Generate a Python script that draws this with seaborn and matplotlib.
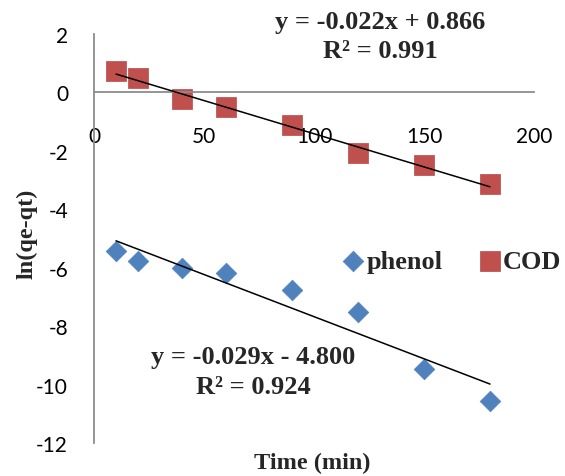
import matplotlib
matplotlib.use("Agg")
import matplotlib.pyplot as plt
import seaborn as sns
import pandas as pd

time_min = [10, 20, 40, 60, 90, 120, 150, 180]
phenol = [-5.43, -5.77, -6.00, -6.18, -6.76, -7.51, -9.45, -10.55]
cod = [0.72, 0.51, -0.24, -0.51, -1.13, -2.08, -2.49, -3.14]
x_ticks = [0, 50, 100, 150, 200]
y_ticks = [-12, -10, -8, -6, -4, -2, 0, 2]
eq_cod = ["y = -0.022x + 0.866", "R² = 0.991"]
eq_phenol = ["y = -0.029x - 4.800", "R² = 0.924"]

sns.set_style("white")
plt.rcParams['font.family'] = ['Lato', 'DejaVu Sans']

W, H = 565, 477
fig = plt.figure(figsize=(W / 100, H / 100), dpi=100)
ax = fig.add_axes([94 / W, 1 - 444 / H, (534 - 94) / W, (444 - 35) / H])

df = pd.DataFrame({"t": time_min, "phenol": phenol, "COD": cod})

blue = "#4F81BD"
red = "#C0504D"

sns.regplot(data=df, x="t", y="phenol", scatter=False, ci=None, ax=ax,
            color="black", line_kws={"lw": 1.1, "zorder": 3})
sns.regplot(data=df, x="t", y="COD", scatter=False, ci=None, ax=ax,
            color="black", line_kws={"lw": 1.1, "zorder": 3})
sns.scatterplot(data=df, x="t", y="phenol", marker="D", s=110, color=blue,
                edgecolor=blue, linewidth=0.5, ax=ax, label="phenol", zorder=2)
sns.scatterplot(data=df, x="t", y="COD", marker="s", s=190, color=red,
                edgecolor="#B8474A", linewidth=0.5, ax=ax, label="COD", zorder=2)

ax.set_xlim(0, 200)
ax.set_ylim(-12, 2)
ax.set_xticks(x_ticks)
ax.set_yticks(y_ticks)
ax.set_xticklabels([str(v) for v in x_ticks])
ax.set_yticklabels([str(v) for v in y_ticks])
ax.tick_params(axis="both", length=0, labelsize=15, colors="black")
ax.tick_params(axis="x", pad=24.5)
ax.tick_params(axis="y", pad=18.7)

for s in ["top", "right"]:
    ax.spines[s].set_visible(False)
ax.spines["bottom"].set_position(("data", 0))
for s in ["left", "bottom"]:
    ax.spines[s].set_color("#8C8C8C")
    ax.spines[s].set_linewidth(1.3)
ax.set_xlabel("")
ax.set_ylabel("")

serif = ["Liberation Serif", "DejaVu Serif"]
fig.text(312 / W, 1 - 463 / H, "Time (min)", ha="center", va="center",
         fontsize=17.5, fontweight="bold", family=serif)
fig.text(27 / W, 1 - 234 / H, "ln(qe-qt)", ha="center", va="center",
         rotation=90, fontsize=17.5, fontweight="bold", family=serif)

fig.text(380 / W, 1 - 22 / H, eq_cod[0], ha="center", va="center",
         fontsize=19, fontweight="bold", family=serif)
fig.text(380 / W, 1 - 51 / H, eq_cod[1], ha="center", va="center",
         fontsize=19, fontweight="bold", family=serif)
fig.text(253 / W, 1 - 358 / H, eq_phenol[0], ha="center", va="center",
         fontsize=19, fontweight="bold", family=serif)
fig.text(253 / W, 1 - 387 / H, eq_phenol[1], ha="center", va="center",
         fontsize=19, fontweight="bold", family=serif)

leg = ax.legend(loc="center left", bbox_to_anchor=(340 / W, 1 - 262 / H),
                bbox_transform=fig.transFigure, ncol=2, frameon=False,
                borderaxespad=0, borderpad=0,
                handletextpad=0.0, columnspacing=1.29, handlelength=1.0,
                prop={"family": serif, "weight": "bold", "size": 19})

fig.savefig("out.png", dpi=100)
